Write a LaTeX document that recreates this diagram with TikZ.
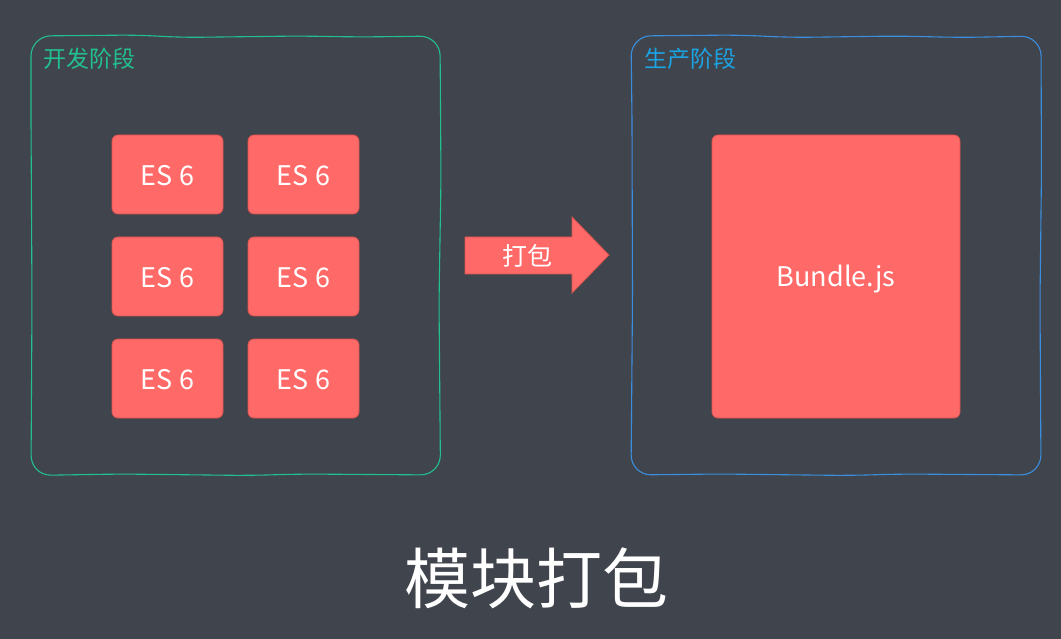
\documentclass[tikz,border=0pt]{standalone}
\usepackage{fontspec}
\setmainfont{Noto Sans CJK SC}
\definecolor{bg}{HTML}{40444C}
\definecolor{boxred}{HTML}{FF6A68}
\definecolor{boxedge}{HTML}{D9534F}
\definecolor{devgreen}{HTML}{22C08F}
\definecolor{prodblue}{HTML}{3A8EDD}
\definecolor{prodlabel}{HTML}{1CA3E3}
\tikzset{
  frame/.style={line width=1.1pt, rounded corners=20pt},
  modbox/.style={draw=boxedge, fill=boxred, line width=0.8pt, rounded corners=6pt},
  modtext/.style={text=white, font=\fontsize{27}{30}\selectfont},
  phase/.style={anchor=west, font=\fontsize{23}{26}\selectfont},
}
\begin{document}
\begin{tikzpicture}[x=1pt,y=-1pt]
\fill[bg] (0,0) rectangle (1061,639);
\useasboundingbox (0,0) rectangle (1061,639);
% frames (slightly hand-drawn)
\draw[frame, devgreen] (31,120) -- (31,36) -- (140,35) -- (180,37.5) -- (300,36) -- (360,37) -- (440,36)
  -- (441,180) -- (439,300) -- (440.5,475) -- (300,474) -- (250,475.5) -- (120,474) -- (31,475.5) -- (32,300) -- (31,120);
\draw[frame, prodblue] (632,120) -- (631,36) -- (740,35) -- (790,37.5) -- (900,36) -- (960,37.5) -- (1041,36)
  -- (1041.5,170) -- (1040,300) -- (1041,475) -- (900,474) -- (850,475.5) -- (720,474) -- (631,475) -- (632.5,300) -- (632,120);
\node[phase, text=devgreen] (devlabel) at (40,59) {开发阶段};
\node[phase, text=prodlabel] (prodlabel) at (641,59) {生产阶段};
% ES6 modules
\foreach \r/\ya/\yb in {1/135/214, 2/237/316, 3/339/418}{
  \draw[modbox] (112,\ya) rectangle (223,\yb);
  \node[modtext] (esa\r) at (167.5,{(\ya+\yb)/2+1.5}) {ES 6};
  \draw[modbox] (248,\ya) rectangle (359,\yb);
  \node[modtext] (esb\r) at (303.5,{(\ya+\yb)/2+1.5}) {ES 6};
}
% bundle
\draw[modbox] (712,135) rectangle (960,418);
\node[modtext] (bundle) at (836,279.5) {Bundle.js};
% arrow
\draw[fill=boxred, draw=boxedge, line width=0.8pt]
  (465,237) -- (572,237) -- (572,217) -- (609,255) -- (572,293) -- (572,274) -- (465,274) -- cycle;
\node[text=white, font=\fontsize{25}{28}\selectfont] (pack) at (527,256) {打包};
% title
\node[text=white, font=\fontsize{66}{72}\selectfont] (title) at (536,578) {模块打包};
\end{tikzpicture}
\end{document}
